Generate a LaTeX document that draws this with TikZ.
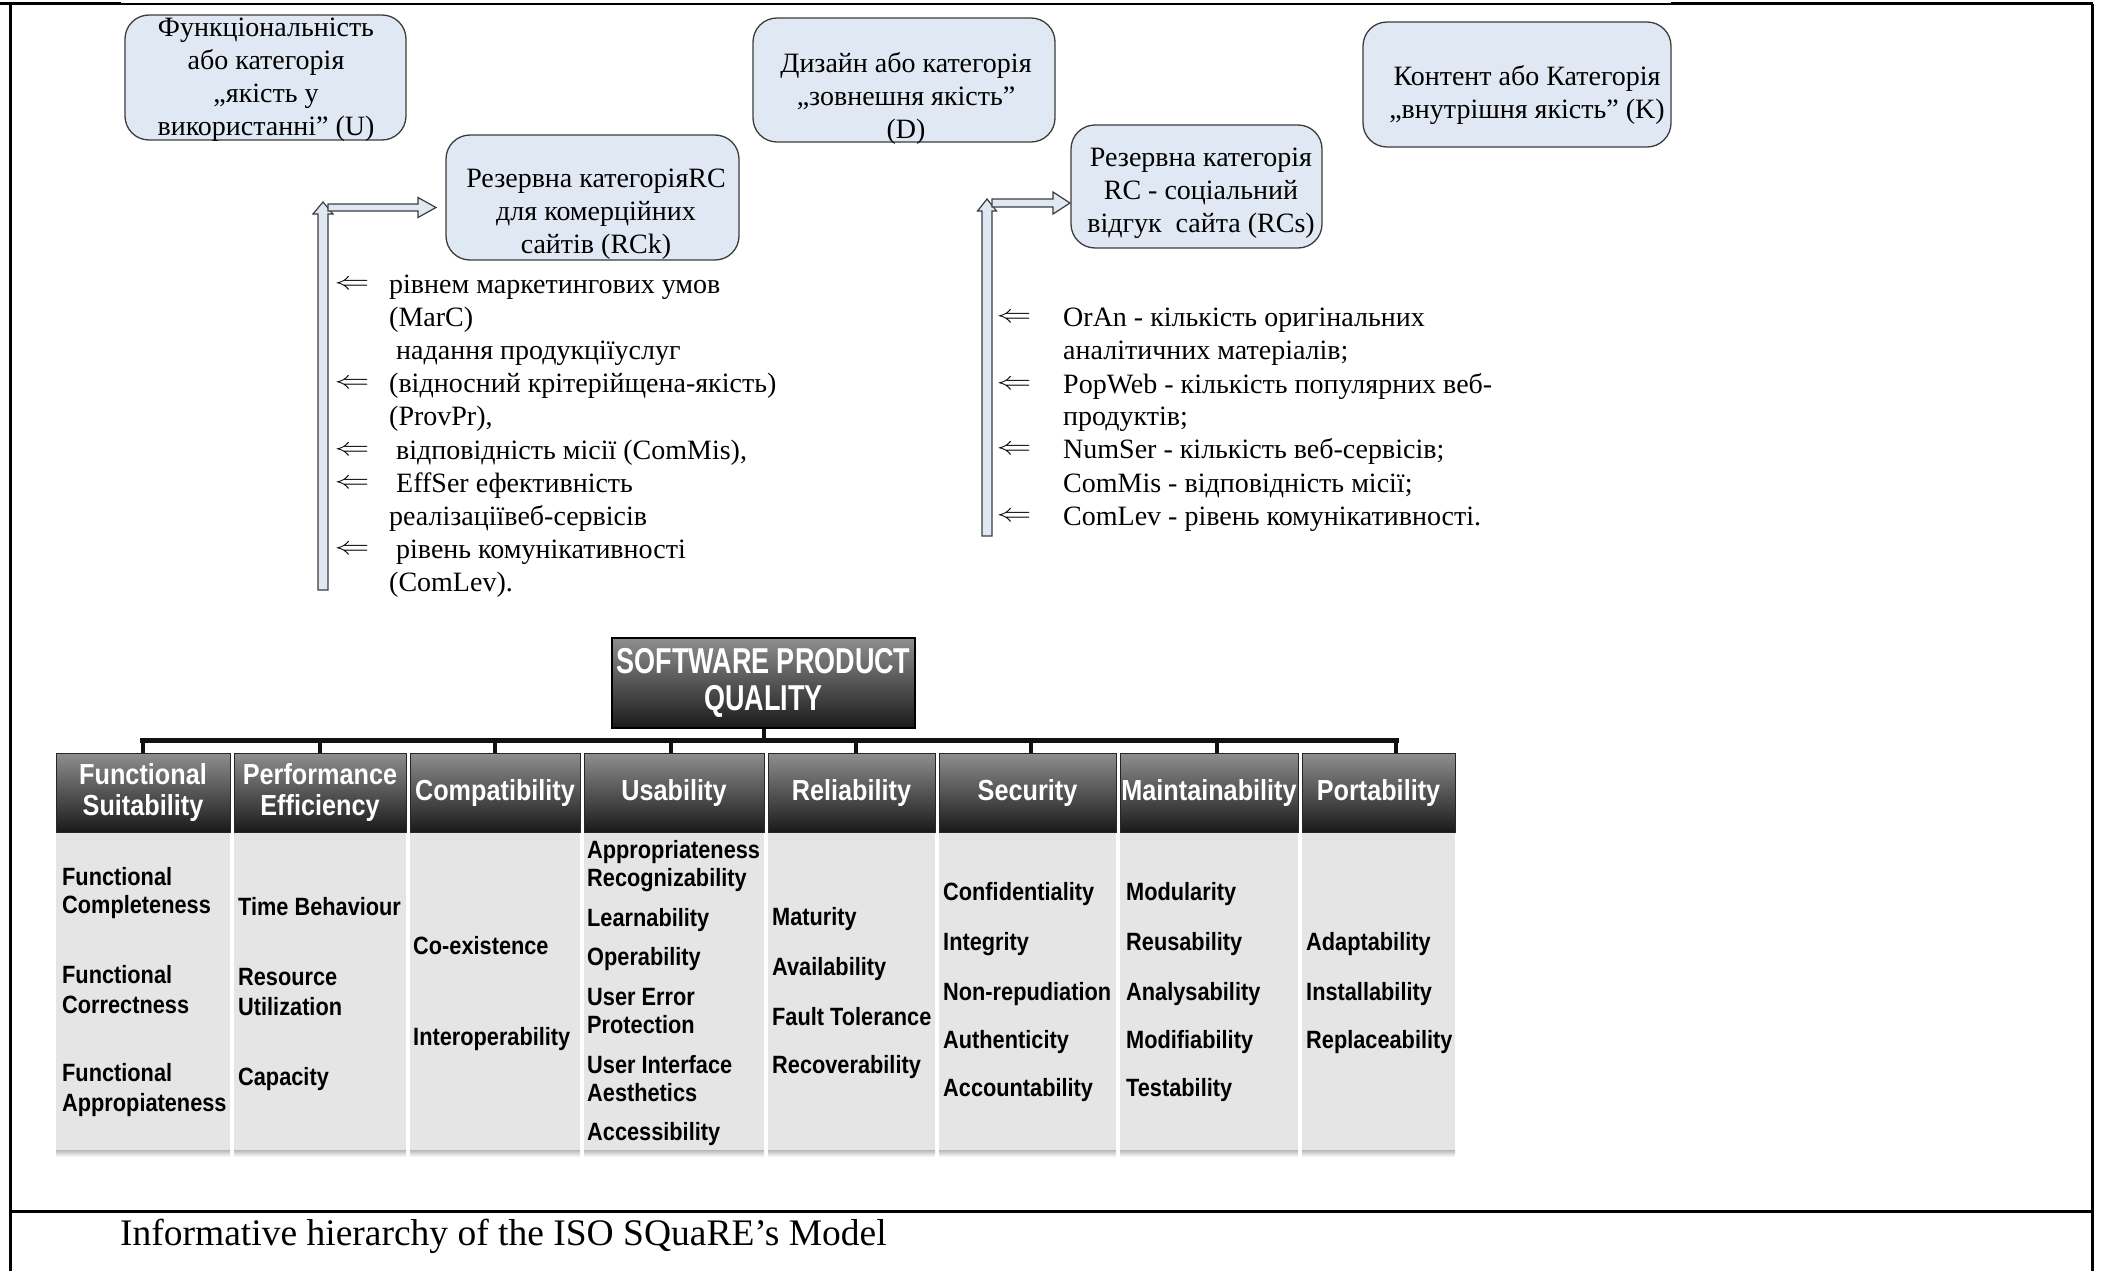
\documentclass[tikz,border=0pt]{standalone}
\usepackage{fontspec}
\setmainfont{Liberation Serif}
\newfontfamily\chartfont[FakeStretch=0.87]{Liberation Sans}
\newfontfamily\spqfont[FakeStretch=0.75]{Liberation Sans}

\definecolor{catfill}{HTML}{E0E8F3}
\definecolor{catline}{HTML}{3C3C3C}
\definecolor{panelgray}{HTML}{E5E5E5}
\definecolor{hdrtop}{HTML}{8E8E8E}
\definecolor{hdrbot}{HTML}{1A1A1A}
\definecolor{barcol}{HTML}{111111}

\newcommand\cellline[4]{\node[cellitem] (#1) at (#2,#3) {#4};}
\newcommand\pointer{\scalebox{1.4}[1]{$\Leftarrow$}}

\begin{document}
\begin{tikzpicture}[x=1pt,y=-1pt,
  frameline/.style={draw=black,line width=3pt},
  catbox/.style={draw=catline,line width=1.3pt,fill=catfill,rounded corners=24pt,inner sep=0pt},
  cattext/.style={align=center,inner sep=0pt,font=\fontsize{28}{33}\selectfont},
  listtext/.style={anchor=base west,inner sep=0pt,font=\fontsize{28}{33}\selectfont},
  listarrow/.style={inner sep=0pt,font=\fontsize{30}{33}\selectfont},
  blockarrow/.style={draw=catline,line width=1.2pt,fill=catfill,line join=miter},
  hdrbox/.style={draw=black!85,line width=0.8pt,top color=hdrtop,bottom color=hdrbot,
    minimum height=79pt,inner sep=0pt,align=center,text=white,
    font=\chartfont\bfseries\fontsize{29}{31}\selectfont},
  panelbox/.style={fill=panelgray,inner sep=0pt,minimum height=317pt},
  cellitem/.style={anchor=base west,inner sep=0pt,
    font=\chartfont\bfseries\fontsize{25}{28}\selectfont},
  treebar/.style={draw=barcol,line width=5pt},
  treetick/.style={draw=barcol,line width=4pt},
]
\useasboundingbox (0,0) rectangle (2101,1271);

% table frame around the figure and its caption row
\draw[line width=3pt] (0,4) -- (121,4);
\draw[line width=1.5pt] (121,4) -- (1671,4);
\draw[line width=3pt] (1671,4) -- (2093,4);
\draw[frameline] (10,4) -- (10,1271);
\draw[frameline] (2092,4) -- (2092,1271);
\draw[frameline] (10,1211) -- (2092,1211);
\node[anchor=base west,inner sep=0pt,font=\fontsize{37.5}{40}\selectfont] (caption) at (120,1245)
  {Informative hierarchy of the ISO SQuaRE’s Model};

% category boxes
\node[catbox,minimum width=281pt,minimum height=125pt] (U) at (265.5,77.5) {};
\node[cattext] (Ut) at (266,80) {Функціональність\\або категорія\\„якість у\\використанні” (U)};

\node[catbox,minimum width=302pt,minimum height=124pt] (D) at (904,80) {};
\node[cattext] (Dt) at (906,98) {Дизайн або категорія\\„зовнешня якість”\\(D)};

\node[catbox,minimum width=308pt,minimum height=125pt] (K) at (1517,84.5) {};
\node[cattext] (Kt) at (1527,95) {Контент або Категорія\\„внутрішня якість” (K)};

\node[catbox,minimum width=293pt,minimum height=125pt] (RCk) at (592.5,197.5) {};
\node[cattext] (RCkt) at (596,214) {Резервна категоріяRC\\для комерційних\\сайтів (RCk)};

\node[catbox,minimum width=251pt,minimum height=123pt] (RCs) at (1196.5,186.5) {};
\node[cattext] (RCst) at (1201,193) {Резервна категорія\\RC - соціальний\\відгук~~сайта (RCs)};

% block arrows feeding the reserve categories
\draw[blockarrow] (318,590) -- (318,214) -- (313,214) -- (323,202) -- (333,214) -- (328,214) -- (328,590) -- cycle;
\draw[blockarrow] (328,204) -- (418,204) -- (418,197.5) -- (436,207.5) -- (418,217.5) -- (418,211) -- (328,211) -- cycle;

\draw[blockarrow] (982,536) -- (982,211) -- (977.5,211) -- (987,199) -- (996.5,211) -- (992,211) -- (992,536) -- cycle;
\draw[blockarrow] (992,199) -- (1053,199) -- (1053,192) -- (1070,203) -- (1053,214) -- (1053,207) -- (992,207) -- cycle;

% indicators of the commercial reserve category
\node[listarrow] (la1) at (352,285) {\pointer};
\node[listarrow] (la2) at (352,384) {\pointer};
\node[listarrow] (la3) at (352,451) {\pointer};
\node[listarrow] (la4) at (352,484) {\pointer};
\node[listarrow] (la5) at (352,550) {\pointer};
\node[listtext] (l1) at (389,293) {рівнем маркетингових умов};
\node[listtext] (l2) at (389,326) {(MarC)};
\node[listtext] (l3) at (396,359) {надання продукціїуслуг};
\node[listtext] (l4) at (389,392) {(відносний крітерійщена-якість)};
\node[listtext] (l5) at (389,425) {(ProvPr),};
\node[listtext] (l6) at (396,459) {відповідність місії (ComMis),};
\node[listtext] (l7) at (396,492) {EffSer ефективність};
\node[listtext] (l8) at (389,525) {реалізаціївеб-сервісів};
\node[listtext] (l9) at (396,558) {рівень комунікативності};
\node[listtext] (l10) at (389,591) {(ComLev).};

% indicators of the social reserve category
\node[listarrow] (ra1) at (1014,318) {\pointer};
\node[listarrow] (ra2) at (1014,385) {\pointer};
\node[listarrow] (ra3) at (1014,450) {\pointer};
\node[listarrow] (ra4) at (1014,517) {\pointer};
\node[listtext] (r1) at (1063,326) {OrAn - кількість оригінальних};
\node[listtext] (r2) at (1063,359) {аналітичних матеріалів;};
\node[listtext] (r3) at (1063,393) {PopWeb - кількість популярних веб-};
\node[listtext] (r4) at (1063,425) {продуктів;};
\node[listtext] (r5) at (1063,458) {NumSer - кількість веб-сервісів;};
\node[listtext] (r6) at (1063,492) {ComMis - відповідність місії;};
\node[listtext] (r7) at (1063,525) {ComLev - рівень комунікативності.};

% quality model tree
\node[hdrbox,minimum width=303pt,minimum height=90pt,draw=black,line width=1.6pt,
  font=\spqfont\bfseries\fontsize{36}{37}\selectfont] (spq) at (763.5,683) {SOFTWARE PRODUCT\\QUALITY};

\node[hdrbox,minimum width=174pt] (hFS) at (143,792.5) {Functional\\Suitability};
\node[hdrbox,minimum width=172pt] (hPE) at (320,792.5) {Performance\\Efficiency};
\node[hdrbox,minimum width=170pt] (hCO) at (495,792.5) {Compatibility};
\node[hdrbox,minimum width=180pt] (hUS) at (674,792.5) {Usability};
\node[hdrbox,minimum width=167pt] (hRE) at (851.5,792.5) {Reliability};
\node[hdrbox,minimum width=177pt] (hSE) at (1027.5,792.5) {Security};
\node[hdrbox,minimum width=178pt] (hMA) at (1209,792.5) {Maintainability};
\node[hdrbox,minimum width=153pt] (hPO) at (1378.5,792.5) {Portability};

\coordinate (barL) at (140,740);
\coordinate (barR) at (1399,740);
\draw[treebar] (barL) -- (barR);
\draw[treetick] (spq.south) -- (spq.south |- barL);
\draw[treetick] (hFS.north) -- (hFS.north |- barL);
\draw[treetick] (hPE.north) -- (hPE.north |- barL);
\draw[treetick] (hCO.north) -- (hCO.north |- barL);
\draw[treetick] ([xshift=-3pt]hUS.north) -- ([xshift=-3pt]hUS.north |- barL);
\draw[treetick] ([xshift=4pt]hRE.north) -- ([xshift=4pt]hRE.north |- barL);
\draw[treetick] ([xshift=3pt]hSE.north) -- ([xshift=3pt]hSE.north |- barL);
\draw[treetick] ([xshift=8pt]hMA.north) -- ([xshift=8pt]hMA.north |- barL);
\draw[treetick] ([xshift=17pt]hPO.north) -- ([xshift=17pt]hPO.north |- barL);

% sub-characteristic panels
\node[panelbox,minimum width=174pt] (pFS) at (143,991.5) {};
\node[panelbox,minimum width=172pt] (pPE) at (320,991.5) {};
\node[panelbox,minimum width=170pt] (pCO) at (495,991.5) {};
\node[panelbox,minimum width=180pt] (pUS) at (674,991.5) {};
\node[panelbox,minimum width=167pt] (pRE) at (851.5,991.5) {};
\node[panelbox,minimum width=177pt] (pSE) at (1027.5,991.5) {};
\node[panelbox,minimum width=178pt] (pMA) at (1209,991.5) {};
\node[panelbox,minimum width=153pt] (pPO) at (1378.5,991.5) {};
\foreach \a/\b in {56/230,234/406,410/580,584/764,768/935,939/1116,1120/1298,1302/1455}
  \shade[top color=black!28,bottom color=white] (\a,1150) rectangle (\b,1157);

\cellline{fs1}{62}{885}{Functional}
\cellline{fs2}{62}{913}{Completeness}
\cellline{fs3}{62}{983}{Functional}
\cellline{fs4}{62}{1013}{Correctness}
\cellline{fs5}{62}{1081}{Functional}
\cellline{fs6}{62}{1111}{Appropiateness}

\cellline{pe1}{238}{915}{Time Behaviour}
\cellline{pe2}{238}{985}{Resource}
\cellline{pe3}{238}{1015}{Utilization}
\cellline{pe4}{238}{1085}{Capacity}

\cellline{co1}{413}{954}{Co-existence}
\cellline{co2}{413}{1045}{Interoperability}

\cellline{us1}{587}{858}{Appropriateness}
\cellline{us2}{587}{886}{Recognizability}
\cellline{us3}{587}{926}{Learnability}
\cellline{us4}{587}{965}{Operability}
\cellline{us5}{587}{1005}{User Error}
\cellline{us6}{587}{1033}{Protection}
\cellline{us7}{587}{1073}{User Interface}
\cellline{us8}{587}{1101}{Aesthetics}
\cellline{us9}{587}{1140}{Accessibility}

\cellline{re1}{772}{925}{Maturity}
\cellline{re2}{772}{975}{Availability}
\cellline{re3}{772}{1025}{Fault Tolerance}
\cellline{re4}{772}{1073}{Recoverability}

\cellline{se1}{943}{900}{Confidentiality}
\cellline{se2}{943}{950}{Integrity}
\cellline{se3}{943}{1000}{Non-repudiation}
\cellline{se4}{943}{1048}{Authenticity}
\cellline{se5}{943}{1096}{Accountability}

\cellline{ma1}{1126}{900}{Modularity}
\cellline{ma2}{1126}{950}{Reusability}
\cellline{ma3}{1126}{1000}{Analysability}
\cellline{ma4}{1126}{1048}{Modifiability}
\cellline{ma5}{1126}{1096}{Testability}

\cellline{po1}{1306}{950}{Adaptability}
\cellline{po2}{1306}{1000}{Installability}
\cellline{po3}{1306}{1048}{Replaceability}
\end{tikzpicture}
\end{document}
